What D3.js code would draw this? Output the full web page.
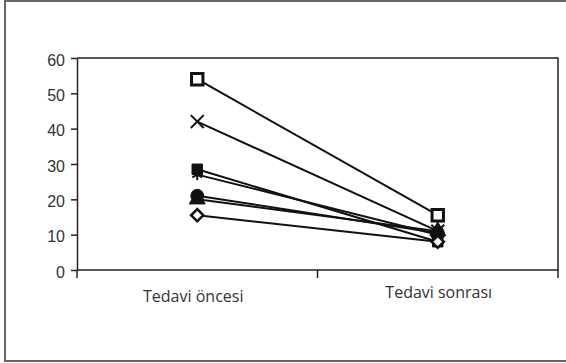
<!DOCTYPE html>
<html>
<head>
<meta charset="utf-8">
<script src="https://cdn.jsdelivr.net/npm/d3@7"></script>
<style>
  body { margin: 0; background: #fff; }
  svg { display: block; font-family: "Open Sans", "Noto Sans", sans-serif; }
</style>
</head>
<body>
<div id="chart_area"></div>
<script>
var margin = { top: 58, right: 8, bottom: 93, left: 77 },
    width = 566 - margin.left - margin.right,
    height = 363 - margin.top - margin.bottom;

var categories = ["Tedavi öncesi", "Tedavi sonrası"];
var yTicks = [0, 10, 20, 30, 40, 50, 60];

// one small array per patient: [before, after]
var squareOpen = [54, 15.5];
var cross = [42, 11];
var squareFilled = [28.5, 8];
var asterisk = [27, 10];
var circle = [21, 10.5];
var triangle = [20, 11];
var diamondOpen = [15.5, 8];

var series = [
    { name: "squareOpen", values: squareOpen, shape: d3.symbolSquare, size: 130, fill: "#fff", stroke: 3, rot: 0 },
    { name: "cross", values: cross, shape: d3.symbolTimes || d3.symbolCross, size: 110, fill: "none", stroke: 2, rot: 0 },
    { name: "squareFilled", values: squareFilled, shape: d3.symbolSquare, size: 110, fill: "#111", stroke: 1, rot: 0 },
    { name: "asterisk", values: asterisk, shape: d3.symbolAsterisk || d3.symbolCross, size: 90, fill: "none", stroke: 2, rot: 0 },
    { name: "circle", values: circle, shape: d3.symbolCircle, size: 130, fill: "#111", stroke: 1, rot: 0 },
    { name: "triangle", values: triangle, shape: d3.symbolTriangle, size: 110, fill: "#111", stroke: 1, rot: 0 },
    { name: "diamondOpen", values: diamondOpen, shape: d3.symbolSquare, size: 75, fill: "#fff", stroke: 2.5, rot: 45 }
];

var svg = d3.select("#chart_area")
    .append("svg")
    .attr("width", 566)
    .attr("height", 363);

// outer frame
svg.append("rect")
    .attr("x", 5).attr("y", 1)
    .attr("width", 570).attr("height", 360)
    .attr("fill", "none")
    .attr("stroke", "#666")
    .attr("stroke-width", 2);

var g = svg.append("g")
    .attr("transform", "translate(" + margin.left + "," + margin.top + ")");

var x = d3.scaleBand()
    .domain(categories)
    .range([0, width]);

var y = d3.scaleLinear()
    .domain([0, 60])
    .range([height, 0]);

// plot box top + right
g.append("path")
    .attr("d", "M0,0H" + width + "V" + height)
    .attr("fill", "none")
    .attr("stroke", "#222")
    .attr("stroke-width", 1.5);

// Y axis
var yAxis = g.append("g")
    .call(d3.axisLeft(y).tickValues(yTicks).tickSize(6).tickPadding(6).tickSizeOuter(0));
yAxis.select(".domain").attr("stroke", "#222").attr("stroke-width", 1.5);
yAxis.selectAll(".tick line").attr("stroke", "#222").attr("stroke-width", 1.5);
yAxis.selectAll("text")
    .attr("dy", "0.45em")
    .style("font-size", "16px")
    .attr("fill", "#333");

// X axis: ticks at category boundaries
var xAxis = g.append("g")
    .attr("transform", "translate(0," + height + ")");
xAxis.append("line")
    .attr("x1", 0).attr("x2", width)
    .attr("stroke", "#222").attr("stroke-width", 1.5);
var bounds = categories.map(function (c) { return x(c); }).concat([x(categories[categories.length - 1]) + x.bandwidth()]);
xAxis.selectAll(".bt")
    .data(bounds)
    .enter()
    .append("line")
    .attr("x1", function (d) { return d; })
    .attr("x2", function (d) { return d; })
    .attr("y1", 0).attr("y2", 8)
    .attr("stroke", "#222").attr("stroke-width", 1.5);
xAxis.selectAll(".cl")
    .data(categories)
    .enter()
    .append("text")
    .attr("x", function (d, i) { return x(d) + x.bandwidth() / 2 + (i === 0 ? -4 : 1); })
    .attr("y", function (d, i) { return i === 0 ? 32 : 28; })
    .attr("text-anchor", "middle")
    .attr("fill", "#333")
    .style("font-size", "16px")
    .text(function (d) { return d; });

var cx = function (i) { return x(categories[i]) + x.bandwidth() / 2; };

// lines
var line = d3.line()
    .x(function (d, i) { return cx(i); })
    .y(function (d) { return y(d); });

g.selectAll(".ser")
    .data(series)
    .enter()
    .append("path")
    .attr("d", function (d) { return line(d.values); })
    .attr("fill", "none")
    .attr("stroke", "#111")
    .attr("stroke-width", 2);

// markers
series.forEach(function (s) {
    g.selectAll(".m-" + s.name)
        .data(s.values)
        .enter()
        .append("path")
        .attr("transform", function (d, i) { return "translate(" + cx(i) + "," + y(d) + ") rotate(" + s.rot + ")"; })
        .attr("d", d3.symbol().type(s.shape).size(s.size))
        .attr("fill", s.fill)
        .attr("stroke", "#111")
        .attr("stroke-width", s.stroke);
});
</script>
</body>
</html>
